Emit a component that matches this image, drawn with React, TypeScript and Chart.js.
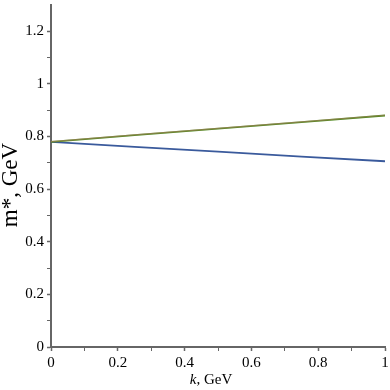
import React, { useEffect, useRef } from "react";
import { Chart, registerables } from "chart.js";

Chart.register(...registerables);

const kValues = [0, 0.25, 0.5, 0.75, 1];
const blueSeries = [0.78, 0.761, 0.743, 0.724, 0.706];
const greenSeries = [0.78, 0.805, 0.83, 0.855, 0.88];
const redSeries = [0.781, 0.806, 0.831, 0.856, 0.881];
const yMajorLabels = [0, 0.2, 0.4, 0.6, 0.8, 1, 1.2];
const xMajorLabels = [0, 0.2, 0.4, 0.6, 0.8, 1];
const yTitle = "m*, GeV";
const xTitleItalic = "k";
const xTitleRest = ", GeV";

const SERIF = "'Liberation Serif', 'Times New Roman', serif";
const AXIS = "#666666";

const isMajor = (v: number, list: number[]) => list.some((m) => Math.abs(m - v) < 1e-6);
const fmt = (v: number) => {
  const r = Math.round(v * 10) / 10;
  return Number.isInteger(r) ? String(r) : r.toFixed(1);
};

const titlePlugin = {
  id: "axisTitles",
  afterDraw(chart: any) {
    const ctx = chart.ctx;
    ctx.save();
    ctx.fillStyle = "#000";
    ctx.font = `23px ${SERIF}`;
    ctx.translate(17, 185);
    ctx.rotate(-Math.PI / 2);
    ctx.textAlign = "center";
    ctx.textBaseline = "alphabetic";
    ctx.fillText(yTitle, 0, 0);
    ctx.restore();

    ctx.save();
    ctx.fillStyle = "#000";
    ctx.textBaseline = "alphabetic";
    ctx.textAlign = "left";
    ctx.font = `italic 15px ${SERIF}`;
    const w1 = ctx.measureText(xTitleItalic).width;
    ctx.font = `15px ${SERIF}`;
    const w2 = ctx.measureText(xTitleRest).width;
    const cx = 211;
    const start = cx - (w1 + w2) / 2;
    ctx.font = `italic 15px ${SERIF}`;
    ctx.fillText(xTitleItalic, start, 384);
    ctx.font = `15px ${SERIF}`;
    ctx.fillText(xTitleRest, start + w1, 384);
    ctx.restore();
  },
};

export default function App() {
  const ref = useRef<HTMLCanvasElement | null>(null);
  useEffect(() => {
    if (!ref.current) return;
    const chart = new Chart(ref.current, {
      type: "line",
      data: {
        datasets: [
          {
            label: "red",
            data: kValues.map((k, i) => ({ x: k, y: redSeries[i] })),
            borderColor: "rgba(200,120,120,0.45)",
            borderWidth: 1.2,
            pointRadius: 0,
          },
          {
            label: "green",
            data: kValues.map((k, i) => ({ x: k, y: greenSeries[i] })),
            borderColor: "#4f8a1e",
            borderWidth: 1.8,
            pointRadius: 0,
          },
          {
            label: "blue",
            data: kValues.map((k, i) => ({ x: k, y: blueSeries[i] })),
            borderColor: "#3a5a9c",
            borderWidth: 1.8,
            pointRadius: 0,
          },
        ],
      },
      options: {
        responsive: false,
        animation: false,
        layout: { padding: { top: 5, right: 5, left: 0, bottom: 0 } },
        plugins: { legend: { display: false }, tooltip: { enabled: false } },
        scales: {
          x: {
            type: "linear",
            min: 0,
            max: 1,
            afterFit: (s: any) => {
              s.height = 43;
              s.paddingLeft = 0;
              s.paddingRight = 0;
            },
            border: { color: AXIS, width: 2 },
            grid: {
              drawOnChartArea: false,
              drawTicks: true,
              tickLength: 4,
              tickColor: AXIS,
              tickWidth: (c: any) => (isMajor(c.tick?.value, xMajorLabels) ? 1.5 : 1),
            },
            ticks: {
              stepSize: 0.1,
              autoSkip: false,
              maxRotation: 0,
              padding: 3,
              color: "#000",
              font: { family: SERIF, size: 15 },
              callback: (v: any) => (isMajor(Number(v), xMajorLabels) ? fmt(Number(v)) : ""),
            },
          },
          y: {
            type: "linear",
            min: 0,
            max: 1.3,
            afterFit: (s: any) => {
              s.width = 51;
              s.paddingTop = 0;
              s.paddingBottom = 0;
            },
            border: { color: AXIS, width: 2 },
            grid: {
              drawOnChartArea: false,
              drawTicks: true,
              tickLength: 4,
              tickColor: (c: any) => (Math.abs(c.tick?.value - 1.3) < 1e-6 ? "rgba(0,0,0,0)" : AXIS),
              tickWidth: (c: any) => (isMajor(c.tick?.value, yMajorLabels) ? 1.5 : 1),
            },
            ticks: {
              stepSize: 0.1,
              autoSkip: false,
              padding: 3,
              color: "#000",
              font: { family: SERIF, size: 15 },
              callback: (v: any) => (isMajor(Number(v), yMajorLabels) ? fmt(Number(v)) : ""),
            },
          },
        },
      },
      plugins: [titlePlugin],
    });
    return () => chart.destroy();
  }, []);
  return (
    <div style={{ position: "absolute", left: 0, top: 0, width: 390, height: 390, background: "#fff" }}>
      <canvas ref={ref} width={390} height={390} style={{ width: 390, height: 390 }} />
    </div>
  );
}
